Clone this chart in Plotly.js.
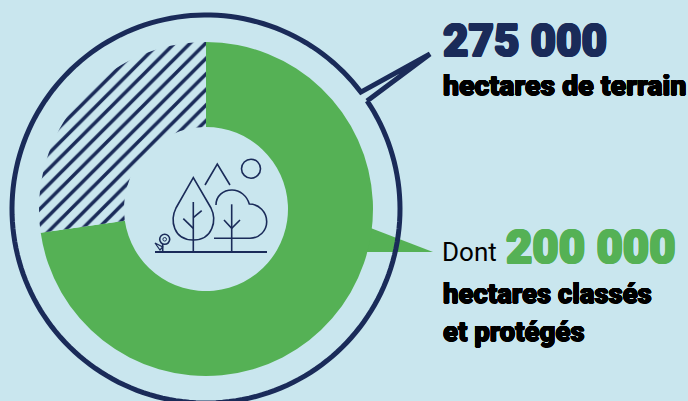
<!DOCTYPE html>
<html lang="fr">
<head>
<meta charset="utf-8">
<script src="https://cdn.plot.ly/plotly-3.0.1.min.js"></script>
<style>html,body{margin:0;padding:0;background:#c9e6ee;overflow:hidden}</style>
</head>
<body>
<div id="chart" style="width:688px;height:401px"></div>
<script>
// Land area, in hectares
const categories = ['Hectares classés et protégés', 'Autres hectares de terrain'];
const hectares = [200000, 75000];

const W = 688, H = 401;
const NAVY = '#1a2b59', GREEN = '#55b155', PAPER = '#c9e6ee';
const CX = 206, CY = 209, R_DONUT = 167, R_HOLE = 82, R_RING = 194;

const fx = x => x / W;
const fy = y => 1 - y / H;

// Converts a pixel-space path (absolute M/L/C/Z) to paper coordinates
function path(d) {
  let isX = true;
  return d.replace(/[MLCZ]|-?[\d.]+/g, tok => {
    if (/[MLCZ]/.test(tok)) { isX = true; return tok; }
    const v = parseFloat(tok);
    const out = isX ? fx(v) : fy(v);
    isX = !isX;
    return out.toFixed(5);
  });
}
const stroke = (d, width = 1.6, color = NAVY) => ({
  type: 'path', xref: 'paper', yref: 'paper', path: path(d),
  line: {color, width}, layer: 'above'
});
const circle = (x, y, r, width = 1.6) => ({
  type: 'circle', xref: 'paper', yref: 'paper',
  x0: fx(x - r), x1: fx(x + r), y0: fy(y + r), y1: fy(y - r),
  line: {color: NAVY, width}, layer: 'above'
});

// Outer ring with its speech-bubble spike towards the total
function ringPath() {
  const pts = [];
  const start = Math.atan2(101 - CY, 367 - CX);
  const end = Math.atan2(92 - CY, 361 - CX) + 2 * Math.PI;
  for (let i = 0; i <= 180; i++) {
    const a = start + (end - start) * i / 180;
    pts.push((CX + R_RING * Math.cos(a)).toFixed(2) + ' ' + (CY + R_RING * Math.sin(a)).toFixed(2));
  }
  return 'M' + pts.join(' L') + ' L430 54 L367 101';
}

const shapes = [
  // Pointer from the green slice to its label
  {type: 'path', xref: 'paper', yref: 'paper', layer: 'below',
   path: path('M368 227 L433 252 L362 252 Z'), fillcolor: GREEN, line: {width: 0}},
  stroke(ringPath(), 5),
  // Ground
  stroke('M155 252 L267 252', 1.8),
  // Drop-shaped tree
  stroke('M193.3 177.7 L176 208 C170 220 173 240 193.3 240 C213 240 217 220 211 208 Z'),
  stroke('M193.3 202 L193.3 252'),
  stroke('M183.3 218.7 L193.3 228.3'),
  stroke('M201.7 210.7 L193.3 217.7'),
  // Hill and sun
  stroke('M205 185 L217.3 164 L230 185'),
  circle(251, 168.7, 9.5),
  // Cloud-shaped tree
  stroke('M216 205 C216 196 223 190 232 190 C240 190 247 196 249.3 204 C259 204 266.7 212 266.7 221.7 C266.7 231 259 238.3 250 238.3 L214 238.3'),
  stroke('M231.7 204.3 L231.7 252'),
  stroke('M224 220 L231.7 228.3 L240 220'),
  // Small flower
  circle(164.7, 239.3, 5),
  circle(164.7, 239.3, 1.8, 1),
  stroke('M162.7 244 L162.7 252'),
  stroke('M155 243 L162.7 247 L160 250 Z', 1.2)
];

// Heavier strokes than the installed black weight, built from a tight halo
function thicken(px, c) {
  const d = (px * 0.7).toFixed(2);
  return [[px, 0], [-px, 0], [0, px], [0, -px], [d, d], [d, -d], [-d, d], [-d, -d]]
    .map(([x, y]) => `${x}px ${y}px 0 ${c}`).join(', ');
}
const label = (text, x, y, size, color, weight, bold) => ({
  text, x: fx(x), y: fy(y), xref: 'paper', yref: 'paper',
  xanchor: 'left', yanchor: 'middle', showarrow: false, borderpad: 0,
  font: {family: 'Roboto', size, color, weight, shadow: bold ? thicken(bold, color) : 'none'}
});

const annotations = [
  label('275 000', 442, 41, 44, NAVY, 900, 1),
  label('hectares de terrain', 442, 85, 28.5, '#000000', 900, 0.5),
  label('Dont', 441, 252, 26, '#000000', 400),
  label('200 000', 505, 247, 45.5, GREEN, 900, 1),
  label('hectares classés', 442, 293, 27.5, '#000000', 900, 0.5),
  label('et protégés', 442, 331, 27.5, '#000000', 900, 0.5)
];

const donut = {
  type: 'pie',
  labels: categories,
  values: hectares,
  sort: false,
  direction: 'clockwise',
  rotation: 0,
  hole: R_HOLE / R_DONUT,
  textinfo: 'none',
  hoverinfo: 'label+value',
  domain: {x: [fx(CX - R_DONUT), fx(CX + R_DONUT)], y: [fy(CY + R_DONUT), fy(CY - R_DONUT)]},
  marker: {
    colors: [GREEN, PAPER],
    line: {width: 0},
    pattern: {shape: ['', '/'], size: 11, solidity: 0.32, fgcolor: NAVY, bgcolor: PAPER, fillmode: 'replace'}
  }
};

Plotly.newPlot('chart', [donut], {
  width: W, height: H,
  margin: {l: 0, r: 0, t: 0, b: 0},
  paper_bgcolor: PAPER, plot_bgcolor: PAPER,
  showlegend: false,
  shapes, annotations
}, {displayModeBar: false, staticPlot: true});
</script>
</body>
</html>
